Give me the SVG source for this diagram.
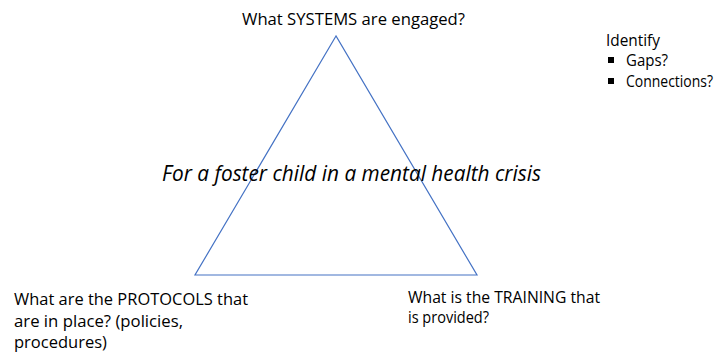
<svg xmlns="http://www.w3.org/2000/svg" width="722" height="352" viewBox="0 0 722 352">
<style>
text{font-family:"Open Sans","Liberation Sans",sans-serif;fill:#000;}
.t{font-size:16px;}
.l{font-size:17px;}
.r{font-size:16px;}
.c{font-size:21px;font-style:italic;}
</style>
<rect width="722" height="352" fill="#fff"/>
<g id="connectors">
<polygon points="336,36 195,275 477,275" fill="none" stroke="#4472C4" stroke-width="1.2"/>
</g>
<g id="center"><text class="c" x="162" y="181" textLength="379" lengthAdjust="spacingAndGlyphs">For a foster child in a mental health crisis</text></g>
<g id="systems"><text class="t" x="242" y="25" textLength="223" lengthAdjust="spacingAndGlyphs">What SYSTEMS are engaged?</text></g>
<g id="protocols">
<text class="l" x="14" y="305" textLength="234" lengthAdjust="spacingAndGlyphs">What are the PROTOCOLS that</text>
<text class="l" x="14" y="327" textLength="169" lengthAdjust="spacingAndGlyphs">are in place? (policies,</text>
<text class="l" x="14" y="348" textLength="93" lengthAdjust="spacingAndGlyphs">procedures)</text>
</g>
<g id="training">
<text class="r" x="408" y="303" textLength="192" lengthAdjust="spacingAndGlyphs">What is the TRAINING that</text>
<text class="r" x="408" y="323" textLength="81" lengthAdjust="spacingAndGlyphs">is provided?</text>
</g>
<g id="identify">
<text class="t" x="606" y="46" font-size="15" textLength="54" lengthAdjust="spacingAndGlyphs">Identify</text>
<rect x="608" y="57" width="6" height="6" fill="#000"/>
<text class="t" x="626" y="66" textLength="42" lengthAdjust="spacingAndGlyphs">Gaps?</text>
<rect x="608" y="78" width="6" height="6" fill="#000"/>
<text class="t" x="626" y="87" textLength="87" lengthAdjust="spacingAndGlyphs">Connections?</text>
</g>
</svg>
